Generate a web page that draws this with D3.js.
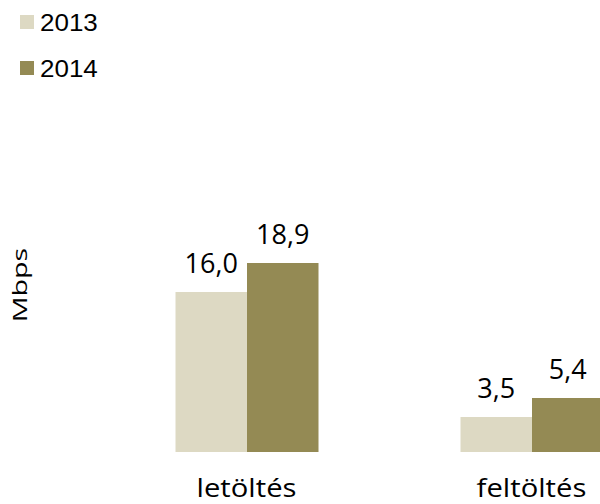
<!DOCTYPE html>
<html>
<head>
<meta charset="utf-8">
<script src="https://cdn.jsdelivr.net/npm/d3@7"></script>
<style>
  html, body { margin: 0; padding: 0; background: #fff; }
  svg { display: block; }
</style>
</head>
<body>
<svg id="chart" width="600" height="504"></svg>
<script>
const categories = ["letöltés", "feltöltés"];
const years = ["2013", "2014"];
const values2013 = [16.0, 3.5];
const values2014 = [18.9, 5.4];
const valueLabels2013 = ["16,0", "3,5"];
const valueLabels2014 = ["18,9", "5,4"];
const colors = ["#DDD9C3", "#948A54"];
const yTitle = "Mbps";

const series = [
  { year: years[0], values: values2013, labels: valueLabels2013, color: colors[0] },
  { year: years[1], values: values2014, labels: valueLabels2014, color: colors[1] }
];

const svg = d3.select("#chart");
const labelFont = "'Open Sans', 'Noto Sans', sans-serif";

const x0 = d3.scaleBand().domain(categories).range([104.5, 674.5]).paddingInner(0).paddingOuter(0);
const x1 = d3.scaleBand().domain(years).range([71, 214]).padding(0);
const y = d3.scaleLinear().domain([0, 20]).range([452, 252]);

const groups = svg.selectAll("g.cat").data(categories).enter().append("g")
  .attr("class", "cat")
  .attr("transform", d => `translate(${x0(d)},0)`);

series.forEach(s => {
  groups.append("rect")
    .attr("x", x1(s.year))
    .attr("width", x1.bandwidth())
    .attr("y", (d, i) => y(s.values[i]))
    .attr("height", (d, i) => y(0) - y(s.values[i]))
    .attr("fill", s.color);
  groups.append("text")
    .attr("x", x1(s.year) + x1.bandwidth() / 2)
    .attr("y", (d, i) => y(s.values[i]) - 19)
    .attr("text-anchor", "middle")
    .style("font-family", labelFont)
    .style("font-size", "27px")
    .attr("fill", "#000")
    .text((d, i) => s.labels[i]);
});

// category labels (glyphs stretched horizontally like the reference)
groups.append("text")
  .attr("transform", `translate(${x0.bandwidth() / 2 - 0.5},497) scale(1.17,1)`)
  .attr("text-anchor", "middle")
  .style("font-family", labelFont)
  .style("font-size", "25px")
  .attr("fill", "#000")
  .text(d => d);

// y title
svg.append("text")
  .attr("transform", "translate(27,285) rotate(-90) scale(1.4,1)")
  .attr("text-anchor", "middle")
  .style("font-family", labelFont)
  .style("font-size", "20.5px")
  .attr("fill", "#000")
  .text(yTitle);

// legend
const legend = svg.selectAll("g.leg").data(series).enter().append("g")
  .attr("class", "leg")
  .attr("transform", (d, i) => `translate(20,${15 + i * 46})`);
legend.append("rect").attr("width", 14).attr("height", 14).attr("fill", d => d.color);
legend.append("text")
  .attr("transform", "translate(20,16) scale(1.13,1)")
  .style("font-family", "'Liberation Sans', Arial, sans-serif")
  .style("font-size", "23px")
  .attr("fill", "#000")
  .text(d => d.year);
</script>
</body>
</html>
